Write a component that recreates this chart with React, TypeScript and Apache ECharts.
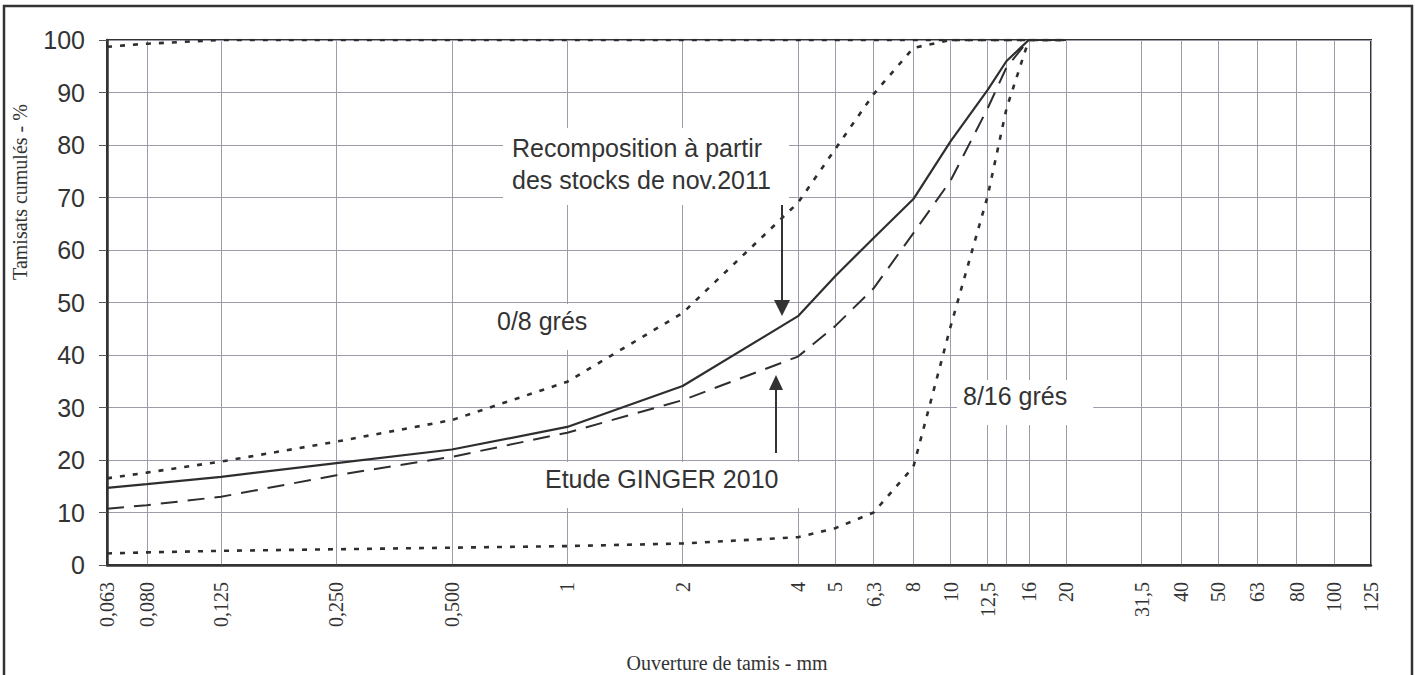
import React, { useEffect, useRef } from "react";
import * as echarts from "echarts";

// Sieve openings (mm) where the curves are measured
const sieves = [0.063, 0.08, 0.125, 0.25, 0.5, 1, 2, 4, 5, 6.3, 8, 10, 12.5, 14, 16, 20];
// Cumulative passing (%)
const recomposition = [14.7, 15.4, 16.8, 19.4, 22.0, 26.3, 34.1, 47.4, 55.0, 62.3, 69.7, 80.7, 90.5, 96.0, 100, 100];
const ginger2010 = [10.7, 11.4, 13.0, 17.1, 20.6, 25.2, 31.4, 39.7, 45.5, 52.7, 63.2, 73.2, 87.0, 94.8, 100, 100];
const gres08 = [16.5, 17.6, 19.7, 23.5, 27.6, 34.9, 48.0, 69.0, 79.2, 89.7, 98.5, 100, 100, 100, 100, 100];
const gres816 = [2.2, 2.4, 2.7, 3.0, 3.3, 3.6, 4.1, 5.3, 7.0, 10.0, 18.7, 45.4, 70.3, 87.0, 100, 100];
const filler = [98.7, 99.3, 100, 100, 100, 100, 100, 100, 100, 100, 100, 100, 100, 100, 100, 100];

// Axis ticks
const tickValues = [0.063, 0.08, 0.125, 0.25, 0.5, 1, 2, 4, 5, 6.3, 8, 10, 12.5, 14, 16, 20, 31.5, 40, 50, 63, 80, 100, 125];
const labelValues = [0.063, 0.08, 0.125, 0.25, 0.5, 1, 2, 4, 5, 6.3, 8, 10, 12.5, 16, 20, 31.5, 40, 50, 63, 80, 100, 125];
const labelTexts = ["0,063", "0,080", "0,125", "0,250", "0,500", "1", "2", "4", "5", "6,3", "8", "10", "12,5", "16", "20", "31,5", "40", "50", "63", "80", "100", "125"];

const SANS = "'Liberation Sans', Arial, sans-serif";
const SERIF = "'Liberation Serif', 'Times New Roman', serif";
const INK = "#2e2e2e";
const GRID = "#9c9cab";

const toPairs = (vals: number[]) => sieves.map((s, i) => [s, vals[i]]);

export default function App() {
  const ref = useRef<HTMLDivElement>(null);

  useEffect(() => {
    if (!ref.current) return;
    const chart = echarts.init(ref.current, undefined, { renderer: "svg" });

    const lineSeries = (name: string, vals: number[], type: any, width: number) => ({
      name,
      type: "line",
      data: toPairs(vals),
      symbol: "none",
      smooth: false,
      z: 3,
      lineStyle: { color: INK, width, type, cap: "butt" },
    });

    const boxText = (text: string, x: number, y: number, padding: number[], lineHeight = 30) => ({
      type: "text",
      x,
      y,
      z: 1,
      style: {
        text,
        font: `25px ${SANS}`,
        fill: "#333",
        lineHeight,
        backgroundColor: "#ffffff",
        padding,
        align: "left",
        verticalAlign: "top",
      },
    });

    chart.setOption({
      animation: false,
      backgroundColor: "#ffffff",
      grid: {
        left: 107,
        right: 44,
        top: 40,
        bottom: 110,
        show: true,
        borderColor: "#333",
        borderWidth: 2,
        backgroundColor: "transparent",
      },
      xAxis: {
        type: "log",
        logBase: 10,
        min: 0.06299,
        max: 125.01,
        axisLine: { show: true, lineStyle: { color: "#333", width: 2.5 } },
        axisTick: { show: false, customValues: tickValues },
        axisLabel: {
          customValues: labelValues,
          rotate: 90,
          margin: 17,
          fontFamily: SERIF,
          fontSize: 20,
          color: "#333",
          formatter: (v: number) => {
            const i = labelValues.findIndex((lv) => Math.abs(v - lv) / lv < 1e-4);
            return i >= 0 ? labelTexts[i] : "";
          },
        },
        splitLine: { show: true, lineStyle: { color: GRID, width: 1 } },
        minorSplitLine: { show: false },
      },
      yAxis: {
        type: "value",
        min: 0,
        max: 100,
        interval: 10,
        axisLine: { show: true, lineStyle: { color: "#333", width: 2.5 } },
        axisTick: { show: true, length: 8, inside: false, lineStyle: { color: "#555", width: 1 } },
        axisLabel: { margin: 22, fontFamily: SANS, fontSize: 25, color: "#333" },
        splitLine: { show: true, lineStyle: { color: GRID, width: 1 } },
      },
      series: [
        lineSeries("Recomposition à partir des stocks de nov.2011", recomposition, "solid", 2.2),
        lineSeries("Etude GINGER 2010", ginger2010, [17, 10], 2),
        lineSeries("0/8 grés", gres08, [5, 8], 2.6),
        lineSeries("8/16 grés", gres816, [5, 8], 2.6),
        lineSeries("Filler", filler, [5, 8], 2.6),
      ],
      graphic: [
        {
          type: "rect",
          z: 10,
          shape: { x: 4, y: 6, width: 1408, height: 720 },
          style: { fill: "none", stroke: "#333", lineWidth: 2.5 },
        },
        {
          type: "text",
          x: 20,
          y: 192,
          rotation: Math.PI / 2,
          z: 10,
          style: {
            text: "Tamisats cumulés - %",
            font: `20px ${SERIF}`,
            fill: "#333",
            align: "center",
            verticalAlign: "middle",
          },
        },
        {
          type: "text",
          x: 727,
          y: 663,
          z: 10,
          style: {
            text: "Ouverture de tamis - mm",
            font: `20px ${SERIF}`,
            fill: "#333",
            align: "center",
            verticalAlign: "middle",
          },
        },
        boxText("Recomposition à partir\ndes stocks de nov.2011", 503, 128, [4, 18, 9, 9], 32),
        boxText("0/8 grés", 485, 304, [2, 12, 14, 12]),
        boxText("Etude GINGER 2010", 530, 462, [2, 22, 14, 15]),
        boxText("8/16 grés", 957, 380, [1, 26, 14, 6]),
        // down arrow
        {
          type: "line",
          z: 10,
          shape: { x1: 782, y1: 205, x2: 782, y2: 302 },
          style: { stroke: "#333", lineWidth: 2 },
        },
        {
          type: "polygon",
          z: 10,
          shape: { points: [[774, 300], [790, 300], [782, 316]] },
          style: { fill: "#333" },
        },
        // up arrow
        {
          type: "line",
          z: 10,
          shape: { x1: 776, y1: 453, x2: 776, y2: 388 },
          style: { stroke: "#333", lineWidth: 2 },
        },
        {
          type: "polygon",
          z: 10,
          shape: { points: [[769, 390], [783, 390], [776, 375]] },
          style: { fill: "#333" },
        },
      ],
    });

    return () => chart.dispose();
  }, []);

  return (
    <div
      ref={ref}
      style={{ position: "fixed", left: 0, top: 0, width: 1415, height: 675, background: "#fff" }}
    />
  );
}
